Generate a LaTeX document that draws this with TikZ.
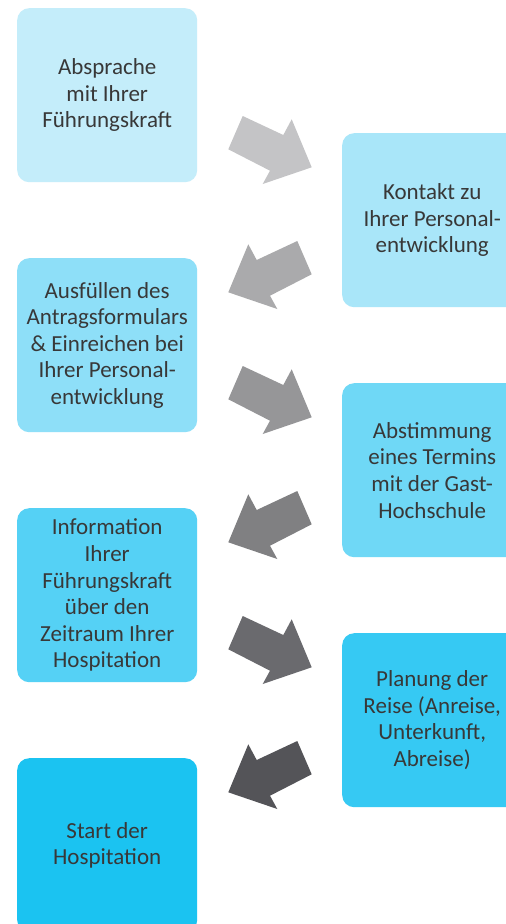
\documentclass[tikz,border=0pt]{standalone}
\usepackage{fontspec}
\setmainfont{Carlito}
\definecolor{c1}{HTML}{C4EDFA}
\definecolor{c2}{HTML}{A9E6F9}
\definecolor{c3}{HTML}{8EDFF8}
\definecolor{c4}{HTML}{6FD8F6}
\definecolor{c5}{HTML}{55D1F5}
\definecolor{c6}{HTML}{36C9F3}
\definecolor{c7}{HTML}{1BC3F1}
\definecolor{a1}{HTML}{C4C4C6}
\definecolor{a2}{HTML}{AAAAAC}
\definecolor{a3}{HTML}{969698}
\definecolor{a4}{HTML}{808082}
\definecolor{a5}{HTML}{6A6A6E}
\definecolor{a6}{HTML}{545458}
\definecolor{txt}{HTML}{383838}
\begin{document}
\begin{tikzpicture}[x=1pt,y=-1pt,
  stepbox/.style={rounded corners=12pt, minimum width=180pt, minimum height=174pt,
    inner sep=0pt, align=center, text=txt, anchor=north west,
    font=\fontsize{23}{26.6}\selectfont},
  pics/blockarrow/.style={code={
    \fill[#1] (-27.3,-34) -- (13.3,-15) -- (21.7,-30.7) -- (41.7,17.3)
      -- (-7.3,34) -- (0,20.7) -- (-41.7,-0.7) -- cycle;}}
]
\clip (0,0) rectangle (506,924);
\fill[white] (0,0) rectangle (506,924);

\node[stepbox, fill=c1] (b1) at (17,8) {Absprache\\mit Ihrer\\Führungskraft};
\node[stepbox, fill=c2] (b2) at (342,133) {Kontakt zu\\Ihrer Personal-\\entwicklung};
\node[stepbox, fill=c3] (b3) at (17,258) {Ausfüllen des\\Antragsformulars\\\& Einreichen bei\\Ihrer Personal-\\entwicklung};
\node[stepbox, fill=c4] (b4) at (342,383) {Abstimmung\\eines Termins\\mit der Gast-\\Hochschule};
\node[stepbox, fill=c5] (b5) at (17,508) {Information\\Ihrer\\Führungskraft\\über den\\Zeitraum Ihrer\\Hospitation};
\node[stepbox, fill=c6] (b6) at (342,633) {Planung der\\Reise (Anreise,\\Unterkunft,\\Abreise)};
\node[stepbox, fill=c7] (b7) at (17,758) {Start der\\Hospitation};

\pic at (270,150) {blockarrow=a1};
\pic[xscale=-1] at (270,275) {blockarrow=a2};
\pic at (270,400) {blockarrow=a3};
\pic[xscale=-1] at (270,525) {blockarrow=a4};
\pic at (270,650) {blockarrow=a5};
\pic[xscale=-1] at (270,775) {blockarrow=a6};
\end{tikzpicture}
\end{document}
